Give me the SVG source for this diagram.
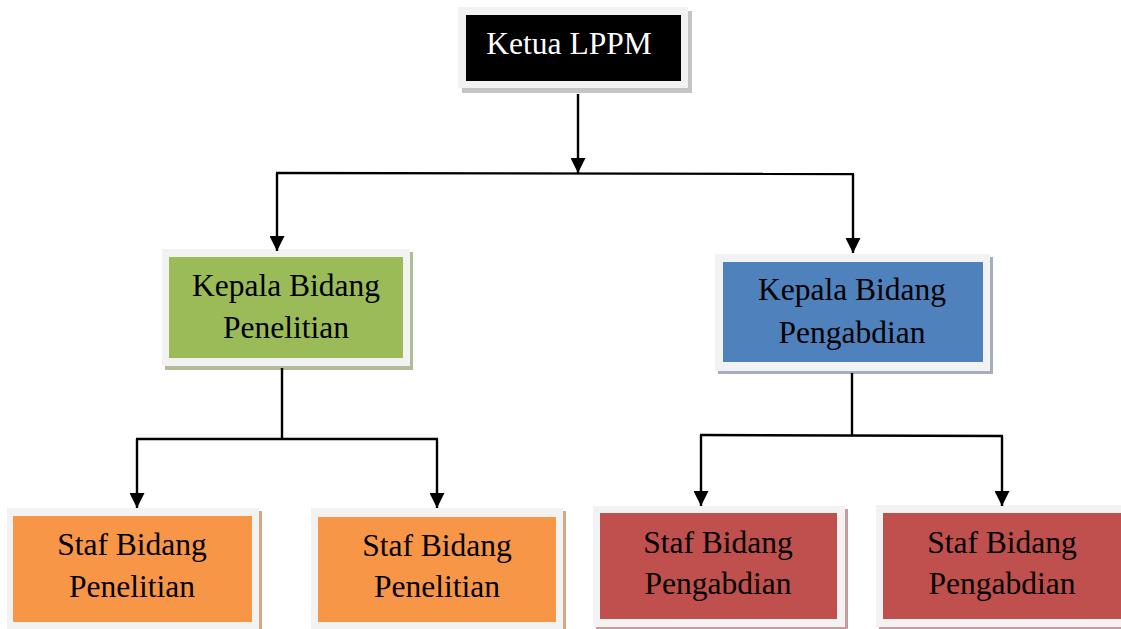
<svg xmlns="http://www.w3.org/2000/svg" width="1121" height="629" viewBox="0 0 1121 629">
<defs>
<marker id="arr" markerUnits="userSpaceOnUse" markerWidth="16" markerHeight="15" refX="15" refY="7.5" orient="auto" viewBox="0 0 16 15">
<path d="M0,0 L15,7.5 L0,15 Z" fill="#000"/>
</marker>
</defs>
<style>
.frame{fill:#f2f2f2}
.lbl{font-family:"Liberation Serif","Times New Roman",serif;font-size:31.5px;text-anchor:middle;fill:#000}
.wh{fill:#fff}
.c{stroke:#000;stroke-width:2.4;fill:none}
.a{marker-end:url(#arr)}
</style>
<rect width="1121" height="629" fill="#fff"/>
<g id="ketua">
<rect x="462" y="11" width="230" height="82" fill="#c4c4c4"/>
<rect class="frame" x="458" y="7" width="230" height="81"/>
<rect x="466" y="15" width="215" height="66" fill="#000"/>
<text class="lbl wh" x="569" y="54">Ketua LPPM</text>
</g>
<g id="kepala-penelitian">
<rect x="165" y="252" width="248" height="118" fill="#b2bb98"/>
<rect class="frame" x="162" y="249" width="248" height="117"/>
<rect x="169" y="257" width="234" height="101" fill="#9bbb59"/>
<text class="lbl" x="286" y="296">Kepala Bidang</text>
<text class="lbl" x="286" y="338">Penelitian</text>
</g>
<g id="kepala-pengabdian">
<rect x="718" y="257" width="275" height="117" fill="#a3afc0"/>
<rect class="frame" x="715" y="254" width="275" height="117"/>
<rect x="723" y="262" width="260" height="100" fill="#4f81bd"/>
<text class="lbl" x="852" y="300">Kepala Bidang</text>
<text class="lbl" x="852" y="343">Pengabdian</text>
</g>
<g id="staf-penelitian-1">
<rect x="10" y="511" width="252" height="120" fill="#d2a883"/>
<rect class="frame" x="7" y="508" width="252" height="121"/>
<rect x="13" y="516" width="239" height="106" fill="#f79646"/>
<text class="lbl" x="132" y="555">Staf Bidang</text>
<text class="lbl" x="132" y="597">Penelitian</text>
</g>
<g id="staf-penelitian-2">
<rect x="314" y="511" width="252" height="120" fill="#d2a883"/>
<rect class="frame" x="311" y="508" width="252" height="121"/>
<rect x="318" y="517" width="238" height="105" fill="#f79646"/>
<text class="lbl" x="437" y="556">Staf Bidang</text>
<text class="lbl" x="437" y="597">Penelitian</text>
</g>
<g id="staf-pengabdian-1">
<rect x="596" y="509" width="252" height="121" fill="#c49d9d"/>
<rect class="frame" x="593" y="506" width="252" height="121"/>
<rect x="600" y="513" width="237" height="106" fill="#c0504d"/>
<text class="lbl" x="718" y="553">Staf Bidang</text>
<text class="lbl" x="718" y="594">Pengabdian</text>
</g>
<g id="staf-pengabdian-2">
<rect x="879" y="508" width="252" height="122" fill="#c49d9d"/>
<rect class="frame" x="876" y="505" width="252" height="122"/>
<rect x="883" y="513" width="238" height="106" fill="#c0504d"/>
<text class="lbl" x="1002" y="553">Staf Bidang</text>
<text class="lbl" x="1002" y="594">Pengabdian</text>
</g>
<g id="connectors">
<line class="c a" x1="578" y1="94" x2="578" y2="173"/>
<line class="c" x1="276" y1="173" x2="854" y2="174"/>
<line class="c a" x1="277" y1="173" x2="277" y2="251"/>
<line class="c a" x1="853" y1="174" x2="853" y2="253"/>
<line class="c" x1="282" y1="368" x2="282" y2="439"/>
<line class="c" x1="136" y1="439" x2="438" y2="439"/>
<line class="c a" x1="137" y1="439" x2="137" y2="508"/>
<line class="c a" x1="437" y1="439" x2="437" y2="508"/>
<line class="c" x1="852" y1="373" x2="852" y2="435"/>
<line class="c" x1="700" y1="435" x2="1003" y2="436"/>
<line class="c a" x1="701" y1="435" x2="701" y2="506"/>
<line class="c a" x1="1002" y1="436" x2="1002" y2="506"/>
</g>
</svg>
